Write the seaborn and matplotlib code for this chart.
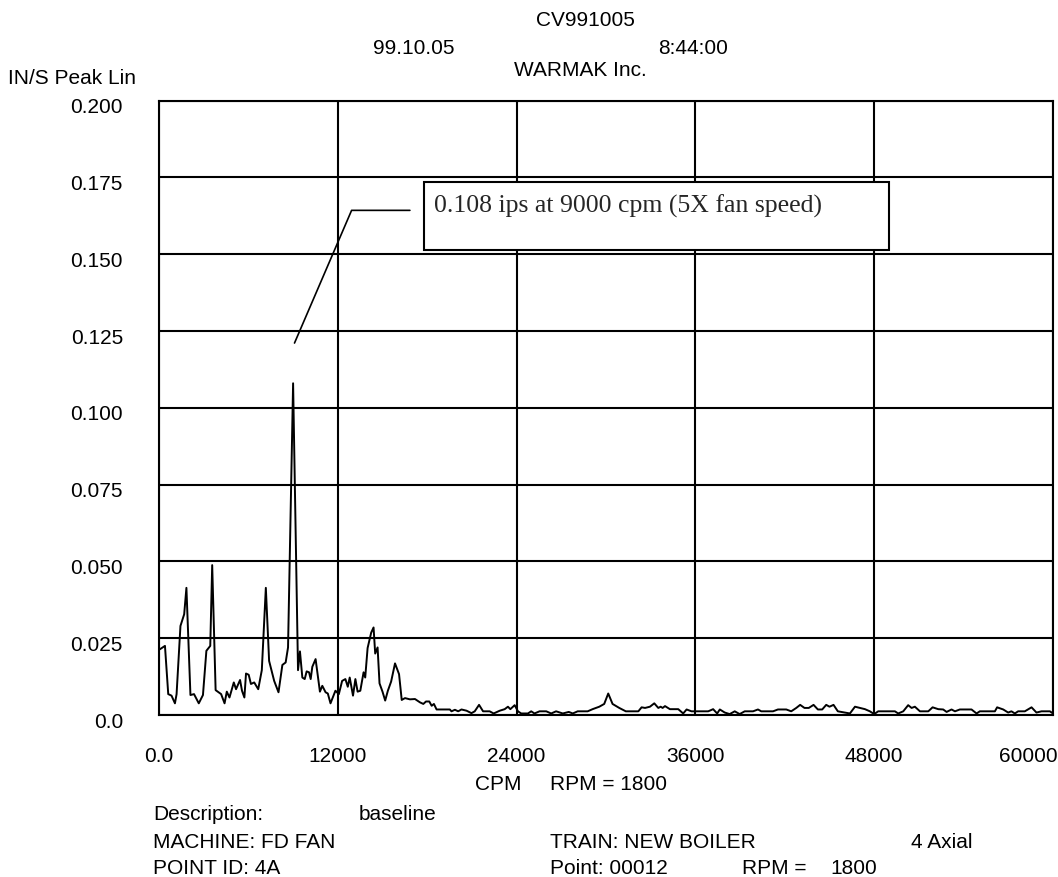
import matplotlib
matplotlib.use("Agg")
import matplotlib.pyplot as plt
import matplotlib.transforms as mtransforms
from matplotlib.patches import Rectangle
import seaborn as sns

# ==============================
# Dados do espectro
# ==============================
cpm = [
    60, 400, 620, 840, 1070, 1180, 1440, 1690, 1840, 2110, 2350, 2670, 2950,
    3180, 3440, 3570, 3800, 4170, 4400, 4550, 4730, 5020, 5170, 5440, 5570,
    5730, 5840, 6020, 6170, 6390, 6660, 6900, 7170, 7390, 7730, 8020, 8280,
    8500, 8660, 9000, 9330, 9460, 9620, 9780, 9910, 10070, 10180, 10290,
    10510, 10800, 10960, 11180, 11330, 11510, 11840, 12070, 12290, 12510,
    12670, 12800, 13020, 13180, 13330, 13510, 13730, 13840, 14000, 14240,
    14400, 14510, 14670, 14800, 15000, 15180, 15360, 15580, 15840, 16110,
    16290, 16510, 16840, 17180,
    17520, 17740, 17920, 18140, 18300, 18450, 18630, 19520, 19630, 19860,
    20080, 20300, 20640, 20970, 21190, 21480, 21750, 22190, 22460, 22870,
    23200, 23420, 23580, 23870, 24090, 24310, 24760, 24980, 25200, 25540,
    25990, 26320, 26650, 27100, 27500, 27770, 28100, 28770, 29100, 29550,
    29880, 30150, 30440, 30890, 31330,
    32170, 32390, 32620, 32950, 33240, 33510, 33670, 33800, 33960, 34290,
    34850, 35180, 35410, 35740, 36860, 37190, 37460, 37640, 37970, 38300,
    38640, 38970, 39310, 39870, 40200, 40420, 41210, 41540, 42100, 42430,
    42770, 43030, 43320, 43610, 43930, 44220, 44510, 44780, 45000, 45270,
    45560,
    46370, 46710, 47040, 47380, 47710, 48000, 48270, 49390, 49610, 49950,
    50280, 50510, 50730, 51070, 51630, 51920, 52300, 52630, 52860, 53190,
    53420, 53750, 54530, 54870, 55090, 56100, 56250, 56660, 56990, 57210,
    57440, 57660, 58110, 58560, 58890, 59230, 59790, 60000,
]
amplitude = [
    0.0214, 0.0225, 0.0068, 0.0063, 0.0038, 0.0068, 0.0290, 0.0328, 0.0414,
    0.0065, 0.0068, 0.0038, 0.0065, 0.0209, 0.0225, 0.0488, 0.0081, 0.0068,
    0.0038, 0.0076, 0.0057, 0.0106, 0.0084, 0.0114, 0.0079, 0.0057, 0.0135,
    0.0131, 0.0101, 0.0106, 0.0084, 0.0146, 0.0414, 0.0176, 0.0111, 0.0074,
    0.0163, 0.0171, 0.0220, 0.1080, 0.0146, 0.0207, 0.0122, 0.0117, 0.0142,
    0.0139, 0.0117, 0.0157, 0.0182, 0.0076, 0.0095, 0.0074, 0.0070, 0.0038,
    0.0079, 0.0068, 0.0111, 0.0117, 0.0092, 0.0122, 0.0063, 0.0117, 0.0076,
    0.0079, 0.0139, 0.0122, 0.0218, 0.0268, 0.0285, 0.0200, 0.0220, 0.0103,
    0.0076, 0.0047, 0.0079, 0.0109, 0.0168, 0.0133, 0.0049, 0.0055, 0.0051,
    0.0052,
    0.0041, 0.0036, 0.0044, 0.0044, 0.0030, 0.0036, 0.0018, 0.0018, 0.0012,
    0.0017, 0.0012, 0.0018, 0.0014, 0.0006, 0.0012, 0.0033, 0.0012, 0.0012,
    0.0005, 0.0014, 0.0019, 0.0027, 0.0019, 0.0032, 0.0012, 0.0005, 0.0005,
    0.0012, 0.0005, 0.0012, 0.0012, 0.0005, 0.0012, 0.0005, 0.0010, 0.0005,
    0.0012, 0.0012, 0.0019, 0.0027, 0.0036, 0.0070, 0.0036, 0.0023, 0.0012,
    0.0012, 0.0025, 0.0023, 0.0027, 0.0038, 0.0023, 0.0027, 0.0023, 0.0029,
    0.0019, 0.0019, 0.0005, 0.0018, 0.0012, 0.0012, 0.0019, 0.0005, 0.0018,
    0.0008, 0.0003, 0.0012, 0.0003, 0.0012, 0.0012, 0.0018, 0.0012, 0.0012,
    0.0018, 0.0018, 0.0012, 0.0023, 0.0033, 0.0023, 0.0023, 0.0033, 0.0018,
    0.0018, 0.0033, 0.0027, 0.0033, 0.0012,
    0.0005, 0.0027, 0.0023, 0.0019, 0.0012, 0.0003, 0.0012, 0.0012, 0.0005,
    0.0012, 0.0032, 0.0023, 0.0027, 0.0012, 0.0012, 0.0025, 0.0019, 0.0018,
    0.0010, 0.0018, 0.0012, 0.0018, 0.0018, 0.0005, 0.0012, 0.0012, 0.0025,
    0.0018, 0.0008, 0.0012, 0.0005, 0.0012, 0.0012, 0.0025, 0.0008, 0.0012,
    0.0012, 0.0005,
]

x_ticks = [0, 12000, 24000, 36000, 48000, 60000]
x_labels = ["0.0", "12000", "24000", "36000", "48000", "60000"]
y_ticks = [0.0, 0.025, 0.05, 0.075, 0.1, 0.125, 0.15, 0.175, 0.2]
y_labels = ["0.0", "0.025", "0.050", "0.075", "0.100", "0.125", "0.150", "0.175", "0.200"]

peak_cpm = 9000
peak_amp = 0.108
note_text = "0.108 ips at 9000 cpm (5X fan speed)"

# ==============================
# Configurações iniciais
# ==============================
sns.set_theme(style="white")
plt.rcParams["font.family"] = ["Liberation Sans", "DejaVu Sans"]
plt.rcParams["font.size"] = 15

W, H = 1058, 877
fig = plt.figure(figsize=(W / 100, H / 100), dpi=100)
ax = fig.add_axes([159 / W, 1 - 715 / H, (1053 - 159) / W, (715 - 100.7) / H])

sns.lineplot(x=cpm, y=amplitude, ax=ax, color="black", linewidth=1.4, zorder=3)

ax.set_xlim(0, 60000)
ax.set_ylim(0, 0.2)
ax.set_xticks(x_ticks)
ax.set_xticklabels(x_labels)
ax.set_yticks(y_ticks)
ax.set_yticklabels(y_labels)
ax.set_xlabel("")
ax.set_ylabel("")

ax.grid(True, color="black", linewidth=1.5)
for s in ax.spines.values():
    s.set_visible(True)
    s.set_color("black")
    s.set_linewidth(1.5)
ax.tick_params(axis="both", direction="out", length=13, width=1.5, color="black",
               labelsize=15, labelcolor="black")
ax.tick_params(axis="y", pad=13)
ax.tick_params(axis="x", pad=10)

# rótulos do eixo y ligeiramente abaixo da linha
shift = mtransforms.ScaledTranslation(0, -3.6 / 72, fig.dpi_scale_trans)
for lab in ax.get_yticklabels():
    lab.set_transform(lab.get_transform() + shift)
last = ax.get_xticklabels()[-1]
last.set_horizontalalignment("right")
last.set_transform(last.get_transform() + mtransforms.ScaledTranslation(3 / 72, 0, fig.dpi_scale_trans))

# ==============================
# Anotação do pico
# ==============================
ax.plot([peak_cpm + 94, 12926, 16839], [peak_amp + 0.0131, 0.1643, 0.1643],
        color="black", linewidth=1.2, zorder=4)
ax.add_patch(Rectangle((17812, 0.1514), 49000 - 17812, 0.1734 - 0.1514,
                       facecolor="white", edgecolor="black", linewidth=1.5, zorder=4))
ax.text(18456, 0.1657, note_text, family=["Liberation Serif", "DejaVu Serif"],
        fontsize=18.5, va="center", ha="left", zorder=5)

# ==============================
# Cabeçalho e rodapé
# ==============================
def txt(x, y, s, ha="left"):
    fig.text(x / W, 1 - y / H, s, ha=ha, va="baseline", fontsize=15, color="black")

txt(585, 25.5, "CV991005", ha="center")
txt(414, 53.5, "99.10.05", ha="center")
txt(693, 53.5, "8:44:00", ha="center")
txt(580, 75.5, "WARMAK Inc.", ha="center")
txt(8, 83.5, "IN/S Peak Lin")

txt(475, 790.5, "CPM")
txt(550, 790.5, "RPM = 1800")
txt(153, 820.5, "Description:")
txt(359, 820.5, "baseline")
txt(153, 847.5, "MACHINE: FD FAN")
txt(550, 847.5, "TRAIN: NEW BOILER")
txt(911, 847.5, "4 Axial")
txt(153, 873.5, "POINT ID: 4A")
txt(550, 873.5, "Point: 00012")
txt(742, 873.5, "RPM =")
txt(830, 873.5, "1800")

fig.savefig("out.png", dpi=100, facecolor="white")
